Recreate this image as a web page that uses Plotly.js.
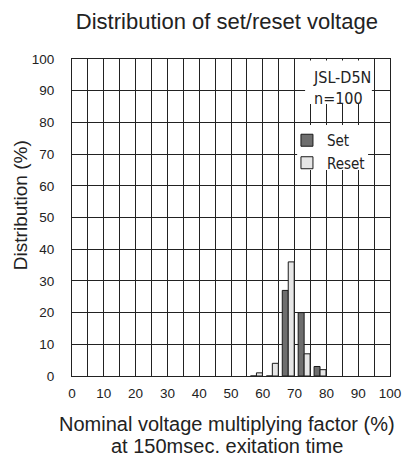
<!DOCTYPE html>
<html><head><meta charset="utf-8">
<script src="https://cdn.plot.ly/plotly-3.0.1.min.js"></script>
<style>html,body{margin:0;padding:0;background:#fff}#chart{width:405px;height:457px}</style>
</head><body><div id="chart"></div>
<script>
const binCenters = [58, 63, 68, 73, 78];
const setValues = [0, 0, 27, 20, 3];
const resetValues = [1, 4, 36, 7, 2];
const xTickVals = [0,10,20,30,40,50,60,70,80,90,100];
const yTickVals = [0,10,20,30,40,50,60,70,80,90,100];
const chartTitle = 'Distribution of set/reset voltage';
const xTitleLines = ['Nominal voltage multiplying factor (%)', 'at 150msec. exitation time'];
const yTitle = 'Distribution (%)';
const infoLines = ['JSL-D5N', 'n=100'];

const mainFont = 'Liberation Sans, Arial, sans-serif';
const narrowFont = 'Liberation Sans Narrow, DejaVu Sans Condensed, sans-serif';
const ink = '#222';

const traces = [
  {type:'bar', name:'Set', x:binCenters, y:setValues,
   marker:{color:'#6e6e6e', line:{color:'#1a1a1a', width:1}}},
  {type:'bar', name:'Reset', x:binCenters, y:resetValues,
   marker:{color:'#e6e6e6', line:{color:'#1a1a1a', width:1}}}
];

const layout = {
  width:405, height:457,
  margin:{l:72, r:15, t:59, b:81},
  paper_bgcolor:'#fff', plot_bgcolor:'#fff',
  barmode:'group', bargap:0.25, bargroupgap:0,
  showlegend:true,
  font:{family:mainFont, color:ink, size:14},
  title:{text:chartTitle, font:{family:mainFont, size:22, color:ink},
         xref:'paper', x:0.487, xanchor:'center', y:0.953, yanchor:'middle'},
  xaxis:{range:[0,100], tickvals:xTickVals, ticks:'outside', ticklen:5, tickcolor:'rgba(0,0,0,0)',
         showgrid:true, gridcolor:ink, gridwidth:1,
         minor:{dtick:5, tick0:0, showgrid:true, gridcolor:ink, gridwidth:1},
         showline:true, linecolor:ink, linewidth:1, mirror:true, zeroline:false,
         tickfont:{size:13.5, color:ink}},
  yaxis:{range:[0,100], tickvals:yTickVals, ticks:'outside', ticklen:14, tickcolor:'rgba(0,0,0,0)',
         showgrid:true, gridcolor:ink, gridwidth:1,
         showline:true, linecolor:ink, linewidth:1, mirror:true, zeroline:false,
         tickfont:{size:13.5, color:ink}},
  legend:{x:0.676, xanchor:'left', y:0.795, yanchor:'top', bgcolor:'rgba(0,0,0,0)', borderwidth:0,
          font:{family:narrowFont, size:15, color:ink}, tracegroupgap:0, itemwidth:30},
  shapes:[
    {type:'rect', xref:'paper', yref:'paper', x0:0.733, x1:0.943, y0:0.858, y1:0.995,
     fillcolor:'#fff', line:{width:0}, layer:'above'},
    {type:'rect', xref:'paper', yref:'paper', x0:0.708, x1:0.931, y0:0.65, y1:0.792,
     fillcolor:'#fff', line:{width:0}, layer:'above'}
  ],
  annotations:[
    {xref:'paper', yref:'paper', x:0.745, y:0.984, xanchor:'left', yanchor:'top', align:'left',
     text:infoLines.join('<br>'), showarrow:false, borderpad:3,
     font:{family:narrowFont, size:16, color:ink}},
    {xref:'paper', yref:'paper', x:-0.1635, y:0.539, xanchor:'center', yanchor:'middle', textangle:-90,
     text:yTitle, showarrow:false, font:{family:mainFont, size:19, color:ink}},
    {xref:'paper', yref:'paper', x:0.487, y:-0.151, xanchor:'center', yanchor:'middle',
     text:xTitleLines[0], showarrow:false, font:{family:mainFont, size:20, color:ink}},
    {xref:'paper', yref:'paper', x:0.487, y:-0.2208, xanchor:'center', yanchor:'middle',
     text:xTitleLines[1], showarrow:false, font:{family:mainFont, size:20, color:ink}}
  ]
};
Plotly.newPlot('chart', traces, layout, {displayModeBar:false, staticPlot:true});
</script></body></html>
